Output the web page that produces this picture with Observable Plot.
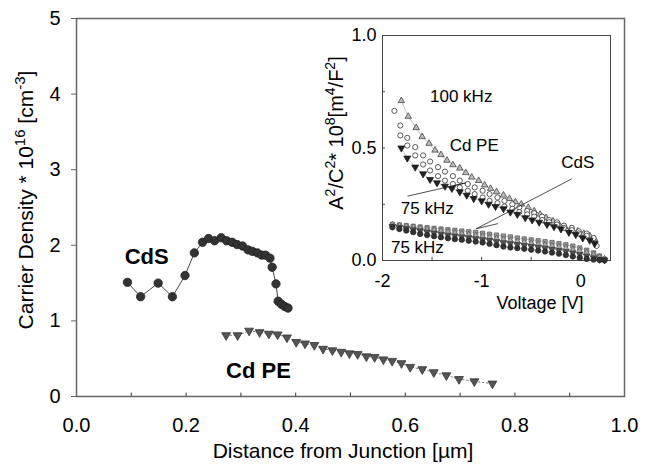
<!DOCTYPE html>
<html>
<head>
<meta charset="utf-8">
<script src="https://cdn.jsdelivr.net/npm/d3@7"></script>
<script src="https://cdn.jsdelivr.net/npm/@observablehq/plot@0.6"></script>
<style>
  html, body { margin: 0; padding: 0; background: white; }
  #wrap { position: relative; width: 649px; height: 465px; font-family: "Liberation Sans", Arial, sans-serif; }
  #inset { position: absolute; left: 300px; top: 20px; }
</style>
</head>
<body>
<div id="wrap"><div id="main"></div><div id="inset"></div></div>
<script>
// ---------- Main chart data ----------
const cdsDist = [0.093,0.117,0.149,0.175,0.198,0.215,0.230,0.241,0.252,0.264,0.274,0.284,0.293,0.303,0.313,0.321,0.330,0.338,0.345,0.353,0.357,0.364,0.368,0.374,0.380,0.386];
const cdsDens = [1.51,1.32,1.50,1.32,1.60,1.90,2.04,2.09,2.06,2.10,2.06,2.04,2.01,1.99,1.94,1.92,1.90,1.87,1.87,1.83,1.71,1.49,1.26,1.22,1.19,1.17];
const pcDist = [0.273,0.294,0.315,0.334,0.351,0.367,0.384,0.401,0.417,0.434,0.450,0.467,0.483,0.498,0.513,0.529,0.544,0.560,0.576,0.593,0.609,0.631,0.652,0.675,0.698,0.726,0.759];
const pcDens = [0.81,0.81,0.87,0.85,0.83,0.82,0.78,0.72,0.70,0.68,0.63,0.61,0.59,0.57,0.56,0.53,0.52,0.49,0.47,0.44,0.39,0.36,0.32,0.28,0.23,0.20,0.17];
const xTicks = [0,0.2,0.4,0.6,0.8,1.0];
const xMinor = [0.1,0.2,0.3,0.4,0.5,0.6,0.7,0.8,0.9];
const yTicks = [0,1,2,3,4,5];
const seriesLabels = ["CdS","Cd PE"];

// ---------- Inset data ----------
const pe100V = [-1.81,-1.74,-1.66,-1.60,-1.53,-1.47,-1.41,-1.35,-1.29,-1.22,-1.16,-1.10,-1.03,-0.97,-0.91,-0.85,-0.78,-0.72,-0.66,-0.60,-0.53,-0.47,-0.41,-0.35,-0.28,-0.22,-0.16,-0.10,-0.03,0.03,0.09,0.14];
const pe100C = [0.71,0.64,0.59,0.55,0.52,0.49,0.47,0.445,0.425,0.41,0.39,0.37,0.355,0.335,0.32,0.305,0.29,0.275,0.26,0.25,0.235,0.22,0.205,0.19,0.175,0.16,0.15,0.14,0.13,0.12,0.11,0.095];
const peAV = [-1.88,-1.82,-1.75,-1.67,-1.59,-1.52,-1.44,-1.37,-1.29,-1.22,-1.14,-1.07,-0.99,-0.92,-0.84,-0.77,-0.69,-0.62,-0.54,-0.47,-0.39,-0.32,-0.24,-0.17,-0.09,-0.02,0.06,0.13];
const peAC = [0.665,0.60,0.545,0.504,0.467,0.44,0.415,0.395,0.375,0.355,0.34,0.325,0.31,0.295,0.28,0.265,0.25,0.235,0.22,0.21,0.195,0.18,0.17,0.155,0.145,0.13,0.12,0.10];
const peBV = [-1.82,-1.75,-1.67,-1.59,-1.52,-1.44,-1.37,-1.29,-1.22,-1.14,-1.07,-0.99,-0.92,-0.84,-0.77,-0.69,-0.62,-0.54,-0.47,-0.39,-0.32,-0.24,-0.17,-0.09,-0.02,0.06,0.16];
const peBC = [0.556,0.511,0.467,0.427,0.40,0.375,0.355,0.34,0.325,0.31,0.295,0.28,0.265,0.255,0.24,0.23,0.215,0.205,0.195,0.18,0.17,0.16,0.145,0.135,0.12,0.11,0.065];
const pe75V = [-1.81,-1.75,-1.67,-1.59,-1.52,-1.45,-1.37,-1.30,-1.22,-1.15,-1.08,-1.00,-0.93,-0.86,-0.78,-0.71,-0.64,-0.56,-0.49,-0.42,-0.34,-0.27,-0.20,-0.12,-0.05,0.02,0.09,0.14];
const pe75C = [0.50,0.455,0.415,0.385,0.36,0.345,0.33,0.32,0.305,0.29,0.275,0.265,0.25,0.24,0.23,0.215,0.205,0.19,0.18,0.17,0.16,0.15,0.14,0.125,0.115,0.10,0.09,0.075];
const cdsV = [-1.90,-1.83,-1.76,-1.69,-1.62,-1.55,-1.48,-1.41,-1.34,-1.27,-1.20,-1.13,-1.06,-0.99,-0.92,-0.85,-0.78,-0.71,-0.64,-0.57,-0.50,-0.43,-0.36,-0.29,-0.22,-0.15,-0.08,-0.01,0.06,0.13,0.19,0.24];
const cdsSqC = [0.16,0.158,0.155,0.152,0.149,0.146,0.143,0.14,0.137,0.134,0.131,0.128,0.125,0.121,0.117,0.113,0.109,0.105,0.10,0.096,0.092,0.088,0.084,0.08,0.075,0.07,0.064,0.056,0.046,0.034,0.02,0.006];
const cdsDiC = [0.156,0.152,0.148,0.144,0.14,0.136,0.132,0.128,0.124,0.12,0.116,0.112,0.108,0.104,0.10,0.095,0.09,0.086,0.082,0.078,0.074,0.07,0.066,0.062,0.057,0.052,0.046,0.04,0.032,0.022,0.012,0.004];
const cdsTrC = [0.152,0.147,0.142,0.137,0.132,0.127,0.122,0.117,0.113,0.109,0.105,0.101,0.097,0.093,0.089,0.084,0.079,0.075,0.071,0.067,0.063,0.059,0.055,0.05,0.045,0.04,0.034,0.027,0.02,0.012,0.005,0.002];
const cdsCiC = [0.148,0.14,0.133,0.126,0.118,0.113,0.108,0.103,0.099,0.095,0.092,0.088,0.084,0.08,0.074,0.068,0.062,0.058,0.055,0.052,0.048,0.044,0.04,0.035,0.03,0.024,0.018,0.012,0.007,0.004,0.002,0.001];
const insetLabels = ["100 kHz","Cd PE","CdS","75 kHz","75 kHz"];
const insetXTicks = [-2,-1,0];
const insetXMinor = [-1.5,-1,-0.5,0];
const insetYTicks = [0,0.5,1.0];
const insetYMinor = [0.25,0.5,0.75];

const font = "Liberation Sans, Arial, sans-serif";
const mk = (xs, ys) => xs.map((x, i) => ({x, y: ys[i]}));

const cds = mk(cdsDist, cdsDens);
const cdpe = mk(pcDist, pcDens);

const main = Plot.plot({
  width: 649, height: 465,
  marginLeft: 76, marginRight: 25, marginTop: 18, marginBottom: 69,
  style: {fontFamily: font, fontSize: "20px", background: "white", color: "black"},
  x: {domain: [0, 1]},
  y: {domain: [0, 5]},
  marks: [
    Plot.frame({stroke: "#666", strokeWidth: 1.5}),
    Plot.axisY({ticks: yTicks, tickSize: 5, tickPadding: 11, tickFormat: d => String(d), label: null, stroke: "#666", fontSize: 20}),
    Plot.axisX({ticks: xTicks, tickSize: 0, tickPadding: 21, tickFormat: d3.format(".1f"), label: null, fontSize: 20}),
    Plot.ruleX(xMinor, {x: d => d, y1: 0, y2: 0.045, stroke: "#333"}),
    Plot.line(cds, {x: "x", y: "y", stroke: "#444", strokeWidth: 1}),
    Plot.dot(cds, {x: "x", y: "y", r: 4.2, fill: "#333", stroke: "#222", strokeWidth: 0.8}),
    Plot.line(cdpe, {x: "x", y: "y", stroke: "#777", strokeWidth: 1, strokeDasharray: "1.5,2.5"}),
    Plot.dot(cdpe, {x: "x", y: "y", symbol: "triangle", rotate: 180, r: 3.3, fill: "#555", stroke: "#333", strokeWidth: 0.8}),
    Plot.text([seriesLabels[0]], {x: 0.128, y: 1.84, text: d => d, fontWeight: "bold", fontSize: 22, fill: "black"}),
    Plot.text([seriesLabels[1]], {x: 0.332, y: 0.344, text: d => d, fontWeight: "bold", fontSize: 22, fill: "black"})
  ]
});
document.getElementById("main").appendChild(main);

function rich(svg, x, y, rot, parts, fs) {
  const t = d3.select(svg).append("text")
    .attr("transform", `translate(${x},${y}) rotate(${rot})`)
    .attr("text-anchor", "middle")
    .attr("font-family", font)
    .attr("font-size", fs)
    .attr("fill", "black");
  const shift = Math.round(fs * 0.38);
  let up = false;
  parts.forEach(([s, sup]) => {
    const sp = t.append("tspan").text(s);
    if (sup && !up) { sp.attr("dy", -shift).attr("font-size", Math.round(fs * 0.7)); up = true; }
    else if (sup && up) { sp.attr("font-size", Math.round(fs * 0.7)); }
    else if (!sup && up) { sp.attr("dy", shift); up = false; }
  });
}
rich(main, 33, 200, -90, [["Carrier Density * 10", 0], ["16", 1], [" [cm", 0], ["-3", 1], ["]", 0]], 21);
rich(main, 343, 458, 0, [["Distance from Junction [\u00b5m]", 0]], 21);

// ---------- Inset ----------
const ptsU = mk(pe100V, pe100C), ptsA = mk(peAV, peAC), ptsB = mk(peBV, peBC), ptsD = mk(pe75V, pe75C);
const cSq = mk(cdsV, cdsSqC), cDi = mk(cdsV, cdsDiC), cTr = mk(cdsV, cdsTrC), cCi = mk(cdsV, cdsCiC);
const ptrX1 = [-0.09, -0.834, -1.748, -1.30];
const ptrY1 = [0.363, 0.164, 0.286, 0.33];
const ptrX2 = [-1.055, -1.055, -1.16, -1.16];
const ptrY2 = [0.141, 0.141, 0.345, 0.345];
const ptrs = ptrX1.map((x1, i) => ({x1, y1: ptrY1[i], x2: ptrX2[i], y2: ptrY2[i]}));
const thin = {stroke: "#999", strokeWidth: 0.6};

const inset = Plot.plot({
  width: 330, height: 300,
  marginLeft: 82, marginRight: 20, marginTop: 15, marginBottom: 60,
  style: {fontFamily: font, fontSize: "18px", background: "none", color: "black", overflow: "visible"},
  x: {domain: [-2, 0.3]},
  y: {domain: [0, 1]},
  marks: [
    Plot.frame({stroke: "#444", strokeWidth: 1}),
    Plot.axisY({ticks: insetYTicks, tickSize: 0, tickPadding: 6, tickFormat: d3.format(".1f"), label: null, fontSize: 18}),
    Plot.axisX({ticks: insetXTicks, tickSize: 0, tickPadding: 14, tickFormat: d => String(d), label: null, fontSize: 18}),
    Plot.ruleY(insetYMinor, {y: d => d, x1: -2, x2: -1.97, stroke: "#444"}),
    Plot.ruleX(insetXMinor, {x: d => d, y1: 0, y2: 0.014, stroke: "#444"}),
    Plot.line(cSq, {x: "x", y: "y", ...thin}),
    Plot.line(cCi, {x: "x", y: "y", ...thin}),
    Plot.dot(cSq, {x: "x", y: "y", symbol: "square", r: 2.4, fill: "#999", stroke: "#555", strokeWidth: 0.7}),
    Plot.dot(cDi, {x: "x", y: "y", symbol: "diamond", r: 2.6, fill: "#aaa", stroke: "#555", strokeWidth: 0.7}),
    Plot.dot(cTr, {x: "x", y: "y", symbol: "triangle", rotate: 180, r: 2.5, fill: "#555", stroke: "#333", strokeWidth: 0.7}),
    Plot.dot(cCi, {x: "x", y: "y", r: 2.7, fill: "#333", stroke: "#222", strokeWidth: 0.7}),
    Plot.line(ptsU, {x: "x", y: "y", ...thin}),
    Plot.line(ptsD, {x: "x", y: "y", ...thin}),
    Plot.dot(ptsU, {x: "x", y: "y", symbol: "triangle", r: 2.4, fill: "#bbb", stroke: "#444", strokeWidth: 0.8}),
    Plot.dot(ptsA, {x: "x", y: "y", r: 2.6, fill: "white", stroke: "#444", strokeWidth: 0.9}),
    Plot.dot(ptsB, {x: "x", y: "y", r: 2.6, fill: "white", stroke: "#444", strokeWidth: 0.9}),
    Plot.dot(ptsD, {x: "x", y: "y", symbol: "triangle", rotate: 180, r: 2.6, fill: "#222", stroke: "#111", strokeWidth: 0.7}),
    Plot.link(ptrs, {x1: "x1", y1: "y1", x2: "x2", y2: "y2", stroke: "#222", strokeWidth: 0.8}),
    Plot.text([insetLabels[0]], {x: -1.206, y: 0.729, text: d => d, fontSize: 17, fill: "black"}),
    Plot.text([insetLabels[1]], {x: -1.075, y: 0.511, text: d => d, fontSize: 17, fill: "black"}),
    Plot.text([insetLabels[2]], {x: -0.03, y: 0.436, text: d => d, fontSize: 17, fill: "black"}),
    Plot.text([insetLabels[3]], {x: -1.548, y: 0.231, text: d => d, fontSize: 17, fill: "black"}),
    Plot.text([insetLabels[4]], {x: -1.648, y: 0.058, text: d => d, fontSize: 17, fill: "black"})
  ]
});
document.getElementById("inset").appendChild(inset);
rich(inset, 42.5, 113, -90, [["A", 0], ["2", 1], ["/C", 0], ["2", 1], ["* 10", 0], ["8", 1], ["[m", 0], ["4", 1], ["/F", 0], ["2", 1], ["]", 0]], 20);
rich(inset, 240, 289, 0, [["Voltage [V]", 0]], 18);
</script>
</body>
</html>
